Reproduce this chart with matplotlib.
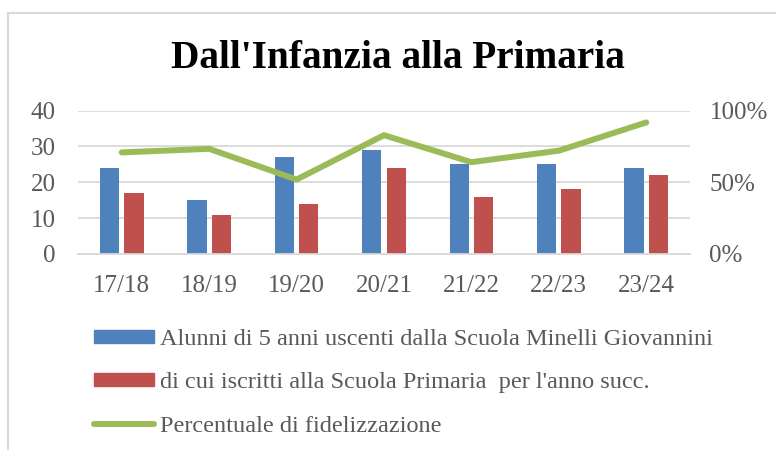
import numpy as np
import matplotlib.pyplot as plt
from matplotlib.patches import Rectangle
from matplotlib.lines import Line2D
from matplotlib.ticker import FuncFormatter

plt.rcParams['font.family'] = ['Liberation Serif', 'DejaVu Serif']

# data
years = ["17/18", "18/19", "19/20", "20/21", "21/22", "22/23", "23/24"]
uscenti = [24, 15, 27, 29, 25, 25, 24]
iscritti = [17, 11, 14, 24, 16, 18, 22]
fidelizzazione = [0.708, 0.733, 0.519, 0.828, 0.64, 0.72, 0.917]

LABEL_BLUE = "Alunni di 5 anni uscenti dalla Scuola Minelli Giovannini"
LABEL_RED = "di cui iscritti alla Scuola Primaria  per l'anno succ."
LABEL_GREEN = "Percentuale di fidelizzazione"

BLUE = '#4F81BD'
RED = '#C0504D'
GREEN = '#9BBB59'
GRID = '#D9D9D9'
TEXT = '#595959'
FS_TICK = 18
FS_LEG = 17.5

fig = plt.figure(figsize=(7.76, 4.5), dpi=100)
ax = fig.add_axes([78 / 776, 1 - 254 / 450, 612 / 776, 143.5 / 450])
ax2 = ax.twinx()

x = np.arange(len(years))
w = 0.22
ax.bar(x - 0.14, uscenti, w, color=BLUE, zorder=2)
ax.bar(x + 0.14, iscritti, w, color=RED, zorder=2)
ax2.plot(x, fidelizzazione, color=GREEN, lw=4.3, solid_capstyle='round',
         solid_joinstyle='miter')

ax.set_xlim(-0.5, len(years) - 0.5)
ax.set_ylim(0, 40)
ax.set_yticks([0, 10, 20, 30, 40])
ax.yaxis.grid(True, color=GRID, lw=1.3, zorder=0)
ax.set_axisbelow(True)
ax2.set_ylim(0, 1)
ax2.set_yticks([0, 0.5, 1])
ax2.yaxis.set_major_formatter(FuncFormatter(lambda v, p: f"{v:.0%}"))

ax.set_xticks(x)
ax.set_xticklabels(years)
for a in (ax, ax2):
    for s in a.spines.values():
        s.set_visible(False)
    a.tick_params(length=0, labelsize=FS_TICK, labelcolor=TEXT)
ax.spines['bottom'].set_visible(True)
ax.spines['bottom'].set_color(GRID)
ax.spines['bottom'].set_linewidth(1.3)
ax.tick_params(axis='x', pad=15)
ax.tick_params(axis='y', pad=16)
ax2.tick_params(axis='y', pad=14)

fig.text(398 / 776, 1 - 58 / 450, "Dall'Infanzia alla Primaria", ha='center',
         va='center', fontsize=28.3, fontweight='bold', color='black')

# chart frame
fig.add_artist(Rectangle((8 / 776, -0.1), 1.0, 1 - 13 / 450 + 0.1,
                         transform=fig.transFigure, fill=False,
                         edgecolor=GRID, lw=1.5))

handles = [Rectangle((0, 0), 1, 1, color=BLUE),
           Rectangle((0, 0), 1, 1, color=RED),
           Line2D([], [], color=GREEN, lw=4.3, solid_capstyle='round')]
fig.legend(handles, [LABEL_BLUE, LABEL_RED, LABEL_GREEN], loc='upper left',
           bbox_to_anchor=(94 / 776, 1 - 329 / 450), frameon=False,
           fontsize=FS_LEG, labelcolor=TEXT, handlelength=2.45, handleheight=0.45,
           handletextpad=0.28, labelspacing=0.92, borderaxespad=0,
           borderpad=0)

fig.savefig("out.png", dpi=100)
